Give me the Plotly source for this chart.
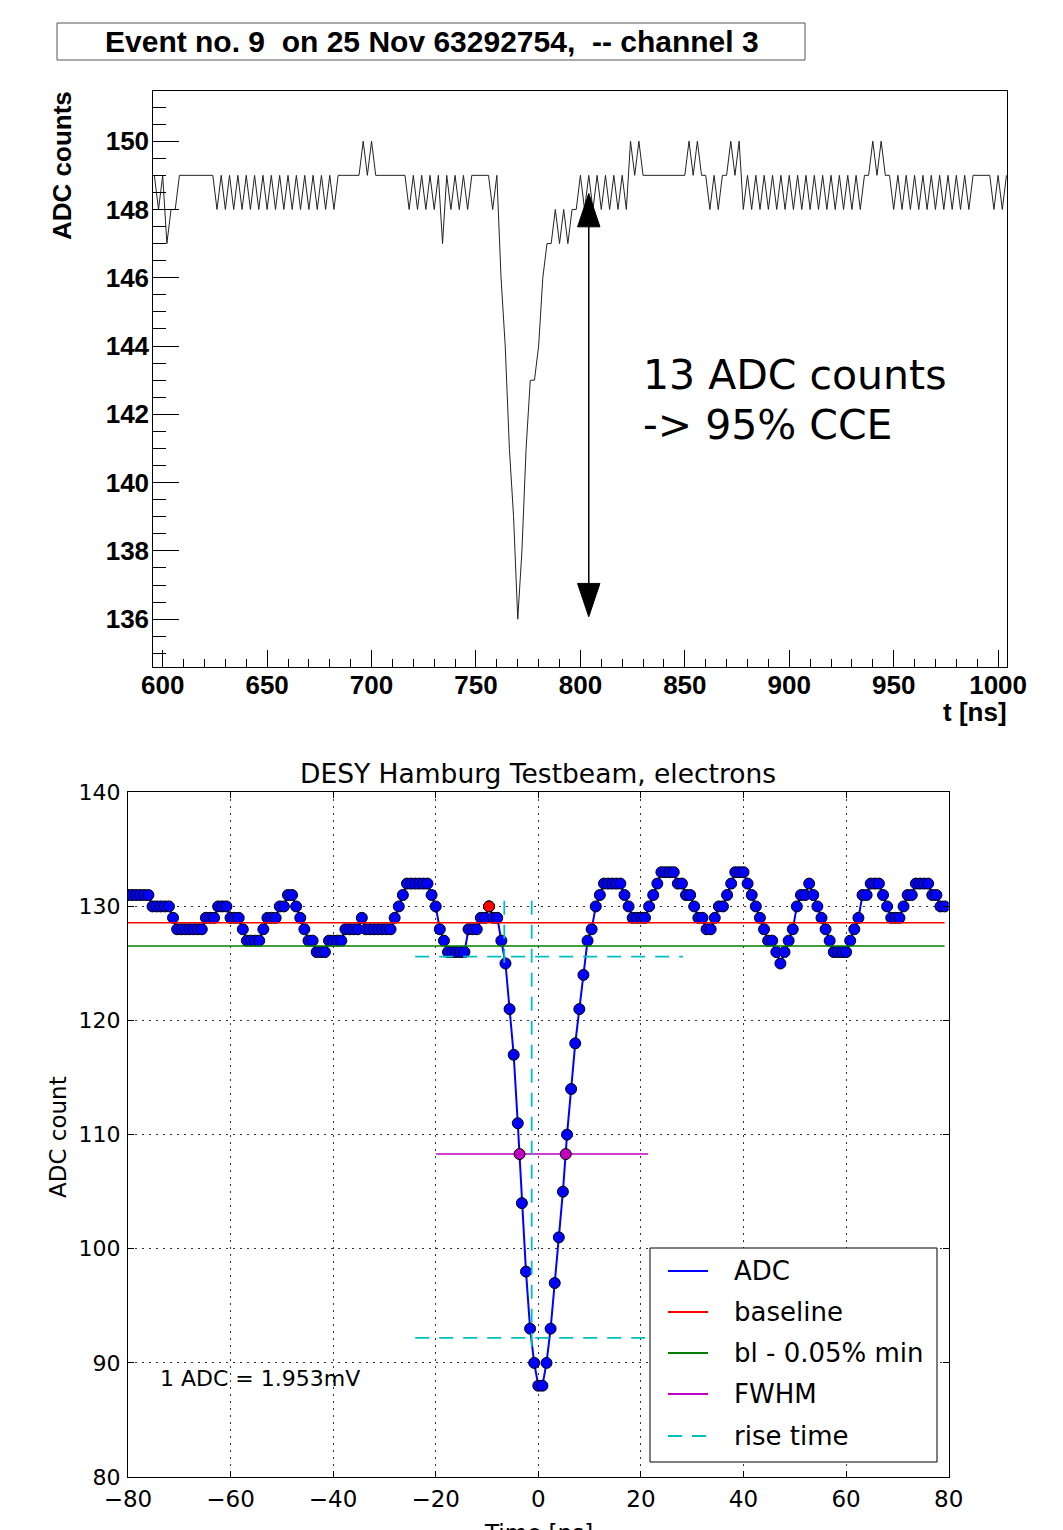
import plotly.graph_objects as go

W, H = 1063, 1530

# ---------------- top panel: ROOT event display ----------------
top_title = "Event no. 9\u00a0 on 25 Nov 63292754,\u00a0 -- channel 3"
top_t0 = 596      # first sample time [ns]
top_step = 2      # sampling interval [ns]
top_adc = [
    149, 148, 149, 147, 148, 148, 149, 149, 149, 149, 149, 149, 149, 149, 149,
    148, 149, 148, 149, 148, 149, 148, 149, 148, 149, 148, 149, 148, 149, 148,
    149, 148, 149, 148, 149, 148, 149, 148, 149, 148, 149, 148, 149, 148,
    149, 149, 149, 149, 149, 149,
    150, 149, 150,
    149, 149, 149, 149, 149, 149, 149, 149,
    148, 149, 148, 149, 148, 149, 148, 149, 147, 149, 148, 149, 148, 149, 148,
    149, 149, 149, 149, 149,
    148, 149,
    146, 144, 141, 139, 136,
    138, 141, 143, 143, 144, 146, 147, 147,
    148, 147, 148, 147, 148, 148,
    149, 148, 149, 148, 149, 148, 149, 148, 149, 148, 149, 148,
    150, 149, 150,
    149, 149, 149, 149, 149, 149, 149, 149, 149, 149, 149,
    150, 149, 150,
    149, 149,
    148, 149, 148,
    149, 149,
    150, 149, 150,
    148, 149, 148, 149, 148, 149, 148, 149, 148, 149, 148, 149, 148, 149, 148,
    149, 148, 149, 148, 149, 148, 149, 148, 149, 148, 149, 148, 149, 148,
    149, 149, 150, 149, 150, 149, 149,
    148, 149, 148, 149, 148, 149, 148, 149, 148, 149, 148, 149, 148, 149, 148,
    149, 148, 149, 148,
    149, 149, 149, 149, 149,
    148, 149, 148, 149,
]
top_t = [top_t0 + top_step * k for k in range(len(top_adc))]
top_xrange = [595.5, 1004.4]
top_yrange = [134.6, 151.47]
top_arrow_x = 804.0
top_arrow_top = 148.47
top_arrow_bottom = 136.07
top_note = ["13 ADC counts", "-> 95% CCE"]

# ---------------- bottom panel: matplotlib analysis ----------------
bot_title = "DESY Hamburg Testbeam, electrons"
bot_t0 = -80.0
bot_step = 0.8
bot_adc = [
    131, 131, 131, 131, 131, 131, 130, 130, 130, 130,
    130, 129, 128, 128, 128, 128, 128, 128, 128, 129,
    129, 129, 130, 130, 130, 129, 129, 129, 128, 127,
    127, 127, 127, 128, 129, 129, 129, 130, 130, 131,
    131, 130, 129, 128, 127, 127, 126, 126, 126, 127,
    127, 127, 127, 128, 128, 128, 128, 129, 128, 128,
    128, 128, 128, 128, 128, 129, 130, 131, 132, 132,
    132, 132, 132, 132, 131, 130, 128, 127, 126, 126,
    126, 126, 126, 128, 128, 128, 129, 129, 130, 129,
    129, 127, 125, 121, 117, 111, 104, 98, 93, 90,
    88, 88, 90, 93, 97, 101, 105, 110, 114, 118,
    121, 124, 127, 128, 130, 131, 132, 132, 132, 132,
    132, 131, 130, 129, 129, 129, 129, 130, 131, 132,
    133, 133, 133, 133, 132, 132, 131, 131, 130, 129,
    129, 128, 128, 129, 130, 130, 131, 132, 133, 133,
    133, 132, 131, 130, 129, 128, 127, 127, 126, 125,
    126, 127, 128, 130, 131, 131, 132, 131, 130, 129,
    128, 127, 126, 126, 126, 126, 127, 128, 129, 131,
    131, 132, 132, 132, 131, 130, 129, 129, 129, 130,
    131, 131, 132, 132, 132, 132, 131, 131, 130, 130,
]
bot_t = [bot_t0 + bot_step * i for i in range(len(bot_adc))]
baseline = 128.57
bl_min = 126.53
fwhm_level = 108.3
fwhm_span = [-19.9, 21.4]
fwhm_points_t = [-3.66, 5.35]
rise_levels = [125.6, 92.2]
rise_span = [-24.0, 28.2]
rise_times = [-6.63, -1.29]
rise_vert_top = 130.5
rise_vert_bottom = [125.0, 90.9]
peak_t, peak_v = -9.6, 130
adc_note = "1 ADC = 1.953mV"
note_pos = (-74.2, 88.6)
legend_labels = ["ADC", "baseline", "bl - 0.05% min", "FWHM", "rise time"]

C_BLUE, C_RED, C_GREEN, C_MAG, C_CYAN = "#0000ff", "#ff0000", "#008000", "#bf00bf", "#00bfbf"


def px(x):
    return x / W


def py(y):
    return 1 - y / H


ROOT_FONT = dict(family="Liberation Sans", size=26, color="black", weight="bold")
MPL_FONT = "DejaVu Sans"

fig = go.Figure()

# top trace
fig.add_trace(go.Scatter(x=top_t, y=top_adc, mode="lines", xaxis="x", yaxis="y",
                         line=dict(color="#222222", width=1), hoverinfo="skip"))

# bottom traces
fig.add_trace(go.Scatter(x=bot_t, y=bot_adc, mode="lines+markers", xaxis="x2", yaxis="y2",
                         line=dict(color=C_BLUE, width=2),
                         marker=dict(size=11, color=C_BLUE, line=dict(color="black", width=1))))
fig.add_trace(go.Scatter(x=[bot_t[0], bot_t[-1]], y=[baseline, baseline], mode="lines",
                         xaxis="x2", yaxis="y2", line=dict(color=C_RED, width=1.6)))
fig.add_trace(go.Scatter(x=[bot_t[0], bot_t[-1]], y=[bl_min, bl_min], mode="lines",
                         xaxis="x2", yaxis="y2", line=dict(color=C_GREEN, width=1.6)))
fig.add_trace(go.Scatter(x=fwhm_span, y=[fwhm_level, fwhm_level], mode="lines",
                         xaxis="x2", yaxis="y2", line=dict(color=C_MAG, width=1.6)))
fig.add_trace(go.Scatter(x=fwhm_points_t, y=[fwhm_level, fwhm_level], mode="markers",
                         xaxis="x2", yaxis="y2",
                         marker=dict(size=11, color=C_MAG, line=dict(color="black", width=1))))
for lvl in rise_levels:
    fig.add_trace(go.Scatter(x=rise_span, y=[lvl, lvl], mode="lines", xaxis="x2", yaxis="y2",
                             line=dict(color=C_CYAN, width=1.8, dash="14px,10px")))
for tt, yb in zip(rise_times, rise_vert_bottom):
    fig.add_trace(go.Scatter(x=[tt, tt], y=[rise_vert_top, yb], mode="lines", xaxis="x2", yaxis="y2",
                             line=dict(color=C_CYAN, width=1.8, dash="14px,10px")))
fig.add_trace(go.Scatter(x=[peak_t], y=[peak_v], mode="markers", xaxis="x2", yaxis="y2",
                         marker=dict(size=11, color=C_RED, line=dict(color="black", width=1))))

top_dom_x = [px(153.3), px(1007.3)]
top_dom_y = [py(667), py(91)]
bot_dom_x = [px(127.9), px(948.7)]
bot_dom_y = [py(1477), py(792.3)]

fig.update_layout(
    width=W, height=H, autosize=False, margin=dict(l=0, r=0, t=0, b=0, pad=0),
    paper_bgcolor="white", plot_bgcolor="white", showlegend=False,
    xaxis=dict(domain=top_dom_x, range=top_xrange, anchor="y", automargin=False,
               tickmode="linear", tick0=0, dtick=50, ticks="inside", ticklen=17, tickwidth=1,
               tickcolor="black",
               minor=dict(tickmode="linear", tick0=0, dtick=10, ticks="inside", ticklen=8,
                          tickcolor="black", tickwidth=1, showgrid=False),
               showline=True, linecolor="black", linewidth=1, mirror=True,
               showgrid=False, zeroline=False, tickfont=ROOT_FONT, ticklabelstandoff=-5),
    yaxis=dict(domain=top_dom_y, range=top_yrange, anchor="x", automargin=False,
               tickmode="linear", tick0=0, dtick=2, ticks="inside", ticklen=26, tickwidth=1,
               tickcolor="black",
               minor=dict(tickmode="linear", tick0=0, dtick=0.5, ticks="inside", ticklen=13,
                          tickcolor="black", tickwidth=1, showgrid=False),
               showline=True, linecolor="black", linewidth=1, mirror=True,
               showgrid=False, zeroline=False, tickfont=ROOT_FONT, ticklabelstandoff=-2),
    xaxis2=dict(domain=bot_dom_x, range=[-80, 80], anchor="y2", automargin=False,
                tickmode="linear", tick0=0, dtick=20, ticks="inside", ticklen=6, tickcolor="black",
                showline=True, linecolor="black", linewidth=1, mirror="ticks",
                showgrid=True, gridcolor="#333333", griddash="2px,5px", gridwidth=1,
                zeroline=False, tickfont=dict(family=MPL_FONT, size=23, color="black"),
                ticklabelstandoff=1),
    yaxis2=dict(domain=bot_dom_y, range=[80, 140], anchor="x2", automargin=False,
                tickmode="linear", tick0=0, dtick=10, ticks="inside", ticklen=6, tickcolor="black",
                showline=True, linecolor="black", linewidth=1, mirror="ticks",
                showgrid=True, gridcolor="#333333", griddash="2px,5px", gridwidth=1,
                zeroline=False, tickfont=dict(family=MPL_FONT, size=22, color="black"),
                ticklabelstandoff=2),
)

shapes = []
ann = []

# top title box
shapes.append(dict(type="rect", xref="paper", yref="paper", x0=px(57), x1=px(805), y0=py(60), y1=py(23),
                   line=dict(color="#555555", width=1), fillcolor="rgba(0,0,0,0)"))
ann.append(dict(text=top_title, x=px(431.5), y=py(41), xref="paper", yref="paper",
                xanchor="center", yanchor="middle", showarrow=False,
                font=dict(family="Liberation Sans", size=30, color="black", weight="bold")))
# top axis titles
ann.append(dict(text="t [ns]", x=px(1009), y=py(712), xref="paper", yref="paper",
                xanchor="right", yanchor="middle", showarrow=False, font=ROOT_FONT))
ann.append(dict(text="ADC counts", x=px(62), y=py(166), xref="paper", yref="paper",
                xanchor="center", yanchor="middle", showarrow=False, textangle=-90, font=ROOT_FONT))

# top double arrow (data coords of the top panel)
x_per_px = (top_xrange[1] - top_xrange[0]) / (1007.3 - 153.3)
y_per_px = (top_yrange[1] - top_yrange[0]) / (667 - 91)
hw = 11.2 * x_per_px
hh = 33.4 * y_per_px
shapes.append(dict(type="line", xref="x", yref="y", x0=top_arrow_x, x1=top_arrow_x,
                   y0=top_arrow_bottom + hh * 0.5, y1=top_arrow_top - hh * 0.5,
                   line=dict(color="black", width=1.5)))
shapes.append(dict(type="path", xref="x", yref="y",
                   path=f"M {top_arrow_x - hw},{top_arrow_top - hh} L {top_arrow_x},{top_arrow_top} "
                        f"L {top_arrow_x + hw},{top_arrow_top - hh} Z",
                   fillcolor="black", line=dict(color="black", width=1)))
shapes.append(dict(type="path", xref="x", yref="y",
                   path=f"M {top_arrow_x - hw},{top_arrow_bottom + hh} L {top_arrow_x},{top_arrow_bottom} "
                        f"L {top_arrow_x + hw},{top_arrow_bottom + hh} Z",
                   fillcolor="black", line=dict(color="black", width=1)))
for txt, yy in zip(top_note, [375, 425]):
    ann.append(dict(text=txt, x=px(641), y=py(yy), xref="paper", yref="paper",
                    xanchor="left", yanchor="middle", showarrow=False,
                    font=dict(family=MPL_FONT, size=41, color="black")))

# bottom title / labels
ann.append(dict(text=bot_title, x=px(538.3), y=py(773), xref="paper", yref="paper",
                xanchor="center", yanchor="middle", showarrow=False,
                font=dict(family=MPL_FONT, size=26.5, color="black")))
ann.append(dict(text="ADC count", x=px(58), y=py(1137), xref="paper", yref="paper",
                xanchor="center", yanchor="middle", showarrow=False, textangle=-90,
                font=dict(family=MPL_FONT, size=23, color="black")))
ann.append(dict(text="Time [ns]", x=px(538.3), y=py(1533), xref="paper", yref="paper",
                xanchor="center", yanchor="middle", showarrow=False,
                font=dict(family=MPL_FONT, size=23, color="black")))
ann.append(dict(text=adc_note, x=note_pos[0], y=note_pos[1], xref="x2", yref="y2",
                xanchor="left", yanchor="middle", showarrow=False,
                font=dict(family=MPL_FONT, size=22, color="black")))

# manual legend
shapes.append(dict(type="rect", xref="paper", yref="paper", x0=px(650), x1=px(937), y0=py(1462), y1=py(1248),
                   line=dict(color="black", width=1), fillcolor="white", layer="above"))
leg_colors = [C_BLUE, C_RED, C_GREEN, C_MAG, C_CYAN]
leg_rows = [1271, 1312, 1353, 1394, 1436]
for lab, col, yy in zip(legend_labels, leg_colors, leg_rows):
    shapes.append(dict(type="line", xref="paper", yref="paper", x0=px(668), x1=px(708), y0=py(yy), y1=py(yy),
                       line=dict(color=col, width=1.8, dash="14px,10px" if lab == "rise time" else "solid"),
                       layer="above"))
    ann.append(dict(text=lab, x=px(732), y=py(yy), xref="paper", yref="paper",
                    xanchor="left", yanchor="middle", showarrow=False,
                    font=dict(family=MPL_FONT, size=26, color="black")))

fig.update_layout(shapes=shapes, annotations=ann)
fig.write_html("out.html")
